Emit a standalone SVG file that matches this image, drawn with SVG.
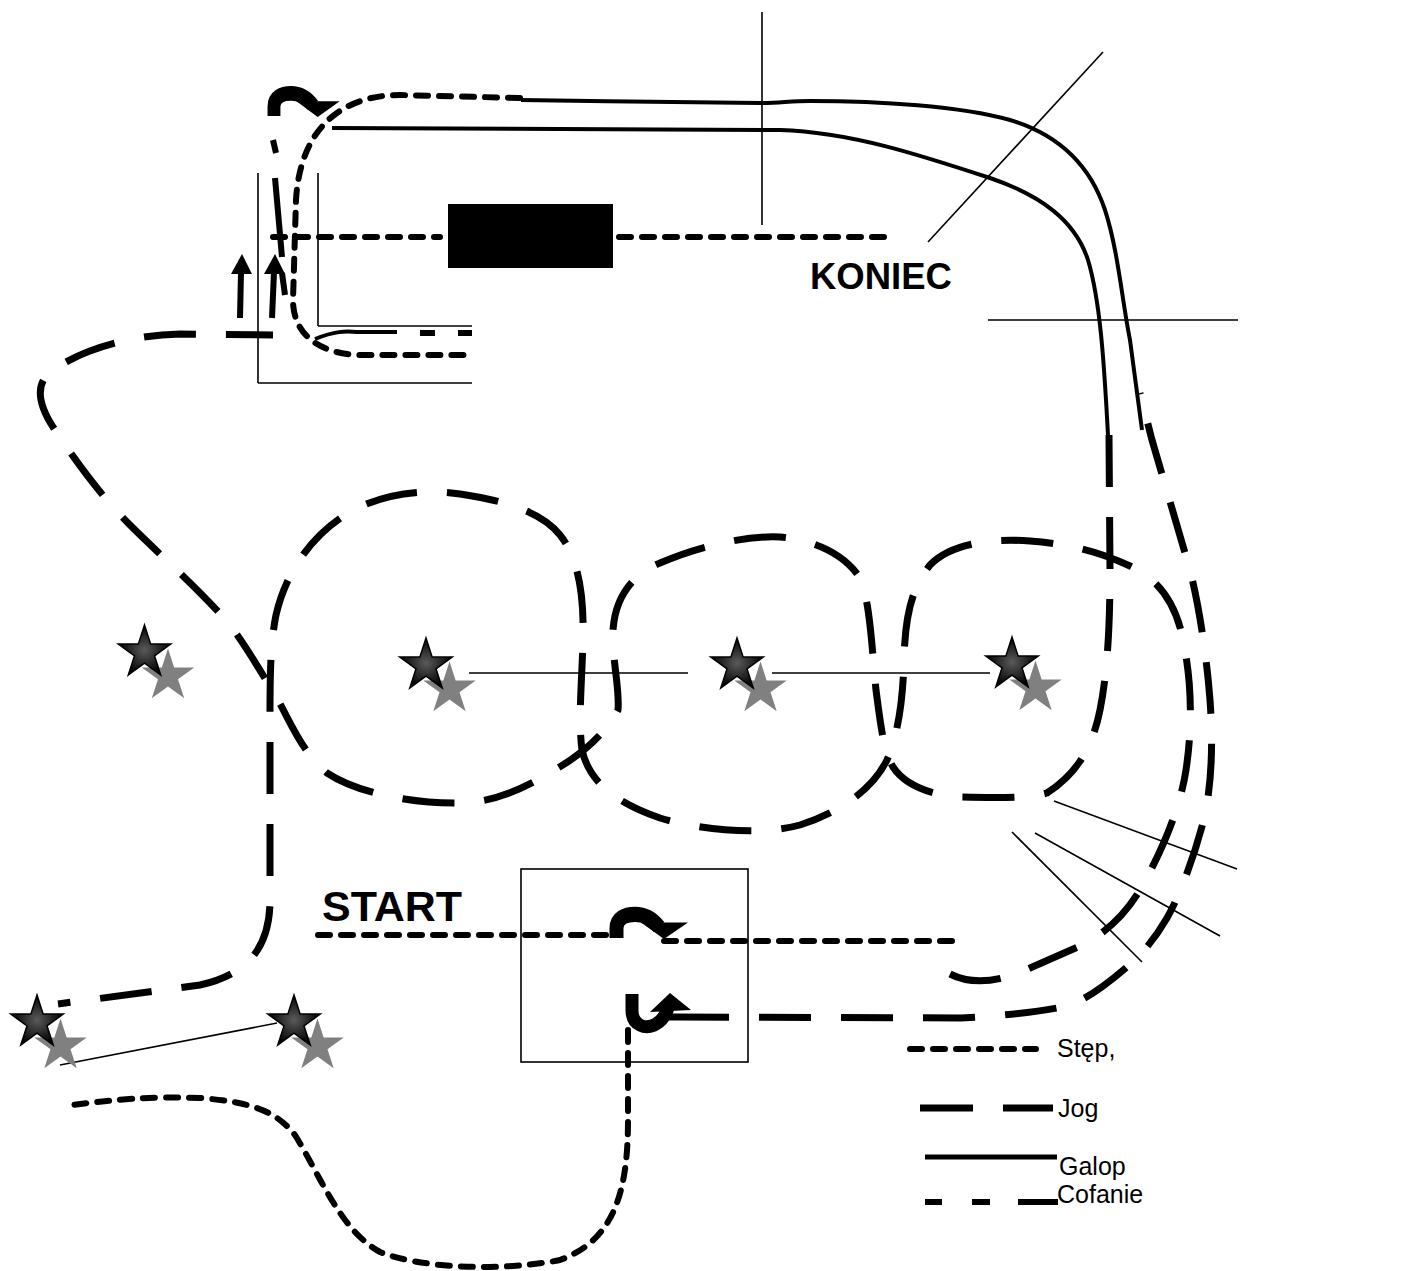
<svg xmlns="http://www.w3.org/2000/svg" width="1401" height="1271" viewBox="0 0 1401 1271">
<style>
.thin{fill:none;stroke:#000;stroke-width:1.6}
.jog{fill:none;stroke:#000;stroke-width:7;stroke-dasharray:52 30}
.step{fill:none;stroke:#000;stroke-width:6;stroke-dasharray:12 11;stroke-linecap:round}
.gal{fill:none;stroke:#000;stroke-width:4}
.cof{fill:none;stroke:#000;stroke-width:6}
.seg{fill:none;stroke:#000;stroke-width:6}
.lbl{font-family:"Liberation Sans",Arial,sans-serif;font-size:25px;fill:#000}
.big{font-family:"Liberation Sans",Arial,sans-serif;font-weight:bold;fill:#000}
.gs{fill:#808080}
.bs{fill:url(#sg);stroke:#000;stroke-width:1.5}
</style>
<defs>
<radialGradient id="sg" cx="50%" cy="50%" r="50%">
<stop offset="0" stop-color="#5a5a5a"/>
<stop offset="1" stop-color="#000"/>
</radialGradient>
<polygon id="star" points="0,-27.6 6.17,-8.49 26.25,-8.53 9.99,3.24 16.22,22.33 0,10.5 -16.22,22.33 -9.99,3.24 -26.25,-8.53 -6.17,-8.49"/>
<g id="turn">
<path d="M 6.5,0 L 6.5,-9 C 6.5,-18 15,-21.5 25,-21.5 C 35,-21.5 43,-17 49,-10" fill="none" stroke="#000" stroke-width="14"/>
<polygon points="31,-14 78,-14 54,1" fill="#000"/>
</g>
</defs>

<g id="arena-lines">
<line class="thin" x1="258" y1="173" x2="258" y2="383"/>
<line class="thin" x1="318" y1="173" x2="318" y2="326"/>
<line class="thin" x1="318" y1="326" x2="472" y2="326"/>
<line class="thin" x1="258" y1="383" x2="472" y2="383"/>
<line class="thin" x1="762" y1="12" x2="762" y2="225"/>
<line class="thin" x1="1103" y1="52" x2="928" y2="242"/>
<line class="thin" x1="988" y1="320" x2="1238" y2="320"/>
<line class="thin" x1="469" y1="673" x2="688" y2="673"/>
<line class="thin" x1="772" y1="673" x2="990" y2="673"/>
<line class="thin" x1="60" y1="1065" x2="277" y2="1023"/>
<line class="thin" x1="1054" y1="801" x2="1237" y2="869"/>
<line class="thin" x1="1035" y1="833" x2="1220" y2="936"/>
<line class="thin" x1="1012" y1="832" x2="1142" y2="962"/>
</g>

<g id="gate">
<rect x="448" y="204" width="165" height="64" fill="#000"/>
</g>

<g id="start-box">
<rect x="521" y="869" width="227" height="193" fill="none" stroke="#000" stroke-width="1.6"/>
</g>

<g id="connectors">
<path class="gal" d="M 521,100 C 600,101 700,103 760,103 C 780,103 790,101 810,101 C 880,101 960,106 1010,120 C 1060,135 1090,165 1105,210 C 1118,250 1122,300 1130,340 L 1142,430"/>
<path class="gal" d="M 332,128 L 780,130 C 850,132 920,155 990,178 C 1040,195 1075,220 1088,260 C 1100,300 1104,360 1108,435"/>
<path class="jog" d="M 950,974 C 970,984 995,984 1030,968 L 1080,946 C 1105,934 1125,915 1140,890 C 1160,855 1180,810 1186,770 C 1192,730 1192,690 1185,650 C 1178,605 1160,580 1130,566 C 1100,552 1070,544 1030,541 C 990,538 950,544 930,565 C 910,590 905,620 904,660 C 903,700 898,735 887,760 C 872,790 840,812 800,825 C 760,836 700,830 660,818 C 620,804 590,785 582,750 C 578,720 582,680 583,640 C 584,600 580,560 560,535 C 540,510 500,500 460,494 C 420,488 380,495 350,512 C 310,535 285,575 276,615 C 270,645 270,680 270,720 L 270,900 C 270,950 245,975 200,985 L 58,1004"/>
<path class="jog" d="M 1109,435 L 1110,570 C 1110,620 1108,670 1100,710 C 1092,750 1075,775 1047,793 C 1030,798 1000,798 960,797 C 930,795 905,785 893,767 C 883,750 880,720 876,690 C 872,650 870,600 860,578 C 845,555 815,540 780,537 C 740,535 690,550 660,563 C 630,575 615,600 613,630 C 612,660 620,690 618,710 C 605,735 580,755 558,768 C 530,785 500,802 460,803 C 420,804 360,795 327,773 C 300,750 290,720 275,695 C 260,670 245,645 230,625 C 200,590 160,555 130,525 C 100,495 75,460 55,430 C 38,405 35,385 50,372 C 80,350 130,335 180,334 L 273,335"/>
<path class="jog" d="M 677,1017 L 960,1018 C 1000,1016 1040,1012 1067,1006 C 1090,998 1110,982 1135,960 C 1150,945 1160,930 1167,918 C 1180,895 1195,855 1205,815 C 1212,780 1213,740 1210,700 C 1207,660 1200,610 1190,570 L 1152,440 L 1140,393"/>
<line class="seg" x1="273" y1="140" x2="276" y2="153"/>
<line class="seg" x1="275" y1="178" x2="282" y2="257"/>
<line class="seg" x1="282" y1="273" x2="285" y2="295"/>
<path class="step" d="M 520,98 L 400,95 C 340,95 300,130 296,200 L 293,300 C 293,335 320,354 360,355 L 470,355"/>
<path class="step" d="M 273,237 L 440,237"/>
<path class="step" d="M 619,237 L 886,237"/>
<path class="step" d="M 318,935 L 610,935"/>
<path class="step" d="M 664,941 L 956,941"/>
<path class="step" d="M 628,1030 L 628,1120 C 628,1190 615,1240 560,1260 C 500,1272 420,1268 380,1252 C 340,1230 320,1175 295,1135 C 275,1110 250,1102 200,1098 C 150,1096 110,1100 72,1105"/>
<line class="cof" x1="472" y1="333" x2="458" y2="333"/>
<line class="cof" x1="435" y1="333" x2="420" y2="333"/>
<path class="gal" d="M 397,332 L 357,332 C 345,331 335,331 315,339"/>
</g>

<g id="arrows">
<line x1="240" y1="318" x2="241" y2="272" stroke="#000" stroke-width="6"/>
<polygon points="231,274 252,274 242,254" fill="#000"/>
<line x1="272" y1="318" x2="274" y2="272" stroke="#000" stroke-width="6"/>
<polygon points="264,274 285,274 275,254" fill="#000"/>
<use href="#turn" transform="translate(268,116) scale(0.92,1.05)"/>
<use href="#turn" transform="translate(610,938) scale(1.0,1.1)"/>
<path d="M 632,994 L 632,1010 C 632,1026 646,1030 656,1024 C 663,1020 666,1014 668,1008" fill="none" stroke="#000" stroke-width="13"/>
<polygon points="650,1012 670,993 691,1010" fill="#000"/>
<line x1="660" y1="1017" x2="677" y2="1017" stroke="#000" stroke-width="7"/>
</g>

<g id="stars">
<use href="#star" class="gs" x="168" y="676"/>
<use href="#star" class="bs" x="144.5" y="652.6"/>
<use href="#star" class="gs" x="449.5" y="689"/>
<use href="#star" class="bs" x="426" y="665.6"/>
<use href="#star" class="gs" x="760.5" y="689"/>
<use href="#star" class="bs" x="737" y="665.6"/>
<use href="#star" class="gs" x="1035.5" y="688"/>
<use href="#star" class="bs" x="1012" y="664.6"/>
<use href="#star" class="gs" x="60.5" y="1046"/>
<use href="#star" class="bs" x="37" y="1022.6"/>
<use href="#star" class="gs" x="317.5" y="1046"/>
<use href="#star" class="bs" x="294" y="1022.6"/>
</g>

<g id="labels">
<text class="big" x="810" y="289" font-size="36.5">KONIEC</text>
<text class="big" x="322" y="921" font-size="43">START</text>
</g>

<g id="legend">
<path class="step" d="M 910,1049 L 1036,1049"/>
<text class="lbl" x="1057" y="1057">Stęp,</text>
<line x1="920" y1="1108" x2="973" y2="1108" stroke="#000" stroke-width="7"/>
<line x1="1003" y1="1108" x2="1053" y2="1108" stroke="#000" stroke-width="7"/>
<text class="lbl" x="1058" y="1117">Jog</text>
<line x1="925" y1="1157" x2="1057" y2="1157" stroke="#000" stroke-width="5"/>
<text class="lbl" x="1059" y="1175">Galop</text>
<line class="cof" x1="925" y1="1202" x2="942" y2="1202"/>
<line class="cof" x1="972" y1="1202" x2="990" y2="1202"/>
<line class="cof" x1="1018" y1="1202" x2="1058" y2="1202"/>
<text class="lbl" x="1057" y="1203">Cofanie</text>
</g>
</svg>
